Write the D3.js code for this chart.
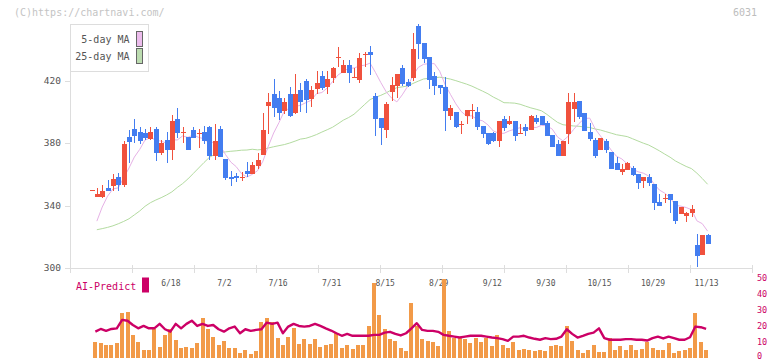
<!DOCTYPE html>
<html>
<head>
<meta charset="utf-8">
<script src="https://cdn.jsdelivr.net/npm/d3@7/dist/d3.min.js"></script>
<style>
  html, body { margin: 0; padding: 0; background: #ffffff; }
  svg { display: block; }
  text { font-family: "DejaVu Sans Mono", "Liberation Mono", monospace; }
</style>
</head>
<body>
<div id="chart"></div>
<script>
// ---- data (day index 0..115, last day = 11/13) ----
const opens = [350,345.6,345.6,351.4,352.5,358.0,353.1,384.0,389.0,386.8,386.2,382.6,389.0,373.8,381.9,375.5,395.4,386.8,384.0,388.3,386.2,387.2,390.4,371.9,389.0,369.8,358.4,359.1,358.4,362.3,360.2,365.5,372.3,403.9,411.4,408.6,400.6,411.4,399.0,413.9,419.9,408.2,414.6,422.9,415.6,421.8,434.8,425.0,429.9,422.2,420.3,437.2,438.2,410.1,396.0,388.3,412.8,416.7,428.0,419.0,421.6,454.9,444.0,435.0,422.9,417.1,415.8,397.5,399.8,392.2,397.5,401.1,399.8,390.9,386.4,386.4,381.5,395.4,392.2,394.1,386.4,390.2,388.5,396.0,397.3,392.8,385.3,379.6,371.9,386.0,402.0,406.9,399.2,387.2,382.1,375.7,381.5,374.4,367.4,361.6,362.9,364.2,360.4,355.9,358.4,354.0,342.4,345.0,347.6,343.1,334.8,333.5,335.4,314.9,308.5,321.3];
const highs = [350,351.4,353.1,356.3,360.2,360.6,381.5,388.3,395.4,390.0,389.0,390.0,390.0,381.9,386.8,397.9,402.6,390.0,384.0,390.0,388.8,391.1,391.1,392.2,390.9,369.8,362.1,361.0,361.7,367.6,367.6,373.4,399.4,411.8,421.0,413.5,408.6,416.0,424.2,418.6,421.0,416.7,425.9,425.9,425.9,428.8,441.6,433.0,433.0,427.8,437.4,438.2,442.1,412.2,396.0,406.4,422.2,424.2,429.9,421.0,450.4,456.0,444.0,435.0,425.4,417.1,422.4,404.3,399.8,394.1,401.1,405.2,403.0,390.9,386.4,387.0,394.1,397.3,397.3,394.1,392.2,392.2,397.9,397.9,397.3,394.1,385.3,382.1,381.5,412.0,412.0,406.9,399.2,393.0,383.4,383.4,382.8,374.4,371.2,366.8,368.0,365.5,360.4,358.4,360.4,354.0,347.6,347.6,347.6,343.1,339.2,336.0,340.5,322.0,321.3,322.0];
const lows = [350,345.6,344.6,349.5,349.5,349.5,352.0,367.4,379.8,379.4,381.9,381.9,368.7,372.3,367.4,369.1,383.0,379.8,375.5,383.4,376.6,379.4,369.1,369.1,370.8,356.3,352.7,354.8,355.9,358.0,360.2,363.4,372.3,385.8,396.8,394.7,398.6,396.4,398.6,400.0,399.4,402.8,411.4,413.9,411.4,418.2,428.8,425.0,418.6,421.6,418.6,428.8,423.5,384.5,378.7,383.4,407.1,408.6,416.7,416.0,419.9,434.0,431.4,414.6,411.0,411.6,387.9,394.9,389.8,386.0,392.4,395.6,388.5,383.4,378.9,380.8,377.6,387.9,391.5,381.5,386.0,384.7,388.5,392.2,391.5,384.7,377.6,371.9,371.9,379.6,393.6,395.4,387.9,381.5,370.6,375.7,373.8,363.6,362.9,359.7,362.9,359.1,350.8,351.4,352.7,337.3,339.9,341.8,335.4,328.4,334.8,329.6,332.8,300.8,308.5,315.6];
const closes = [350,347.4,349.3,349.5,357.0,353.1,379.4,380.8,384.7,381.5,383.0,387.2,373.8,379.8,375.5,394.1,386.2,386.8,375.5,383.4,386.2,381.5,371.9,381.3,370.8,357.8,357.0,357.8,358.4,360.2,365.9,369.1,388.3,406.2,402.6,399.4,406.2,397.3,411.4,406.4,407.5,413.9,418.6,415.0,421.0,428.2,434.8,429.9,425.0,422.2,434.6,437.2,436.5,395.4,389.8,405.2,417.1,424.2,417.8,416.7,440.2,443.2,434.0,420.1,416.7,415.4,400.7,402.4,390.2,392.2,401.1,401.1,390.4,386.0,379.6,381.5,394.1,389.8,394.1,384.7,386.4,387.9,397.3,393.4,391.5,384.7,377.6,371.9,381.5,406.2,406.2,396.6,387.9,382.8,371.9,383.4,375.7,363.6,362.9,363.6,367.4,359.7,354.6,358.4,354.6,341.8,339.9,345.0,343.7,330.3,339.2,335.4,338.0,307.9,321.3,315.6];
const ma5 = [null,330,339,346,350.6,351.3,357.7,364.0,371.0,375.9,381.9,383.4,382.0,381.1,379.9,382.1,381.9,384.5,383.6,385.2,383.6,382.7,379.7,380.9,378.3,372.7,367.8,364.9,360.4,358.2,359.9,362.3,368.4,377.9,386.4,393.1,400.5,402.3,403.4,404.1,405.8,407.3,411.6,412.3,415.2,419.3,423.5,425.8,427.8,428.0,429.3,429.8,431.1,425.2,418.7,412.8,408.8,406.3,410.8,416.2,423.2,428.4,430.4,430.8,430.8,425.9,417.4,411.1,405.1,400.2,397.3,397.4,395.0,394.2,391.6,387.7,386.3,386.2,387.8,388.8,389.8,388.6,390.1,389.9,391.3,391.0,388.9,383.8,381.4,384.4,388.7,392.5,395.7,395.9,389.1,384.5,380.3,375.5,371.5,369.8,366.6,363.4,361.6,360.7,358.9,353.8,349.9,347.9,345.0,340.1,339.6,338.7,337.3,330.2,328.4,323.6];
const ma25 = [null,324.5,325.2,326.0,327.0,328.3,329.8,331.5,334.0,336.5,339.5,341.8,343.5,345.0,346.7,348.7,351.5,354.0,357.0,360.5,364.0,367.5,370.8,372.8,374.0,374.3,374.7,375.0,375.4,375.5,376.0,375.6,375.9,376.8,377.6,378.3,379.0,380.0,381.2,382.5,383.0,384.1,385.4,387.0,388.5,390.1,392.3,394.6,396.3,398.4,401.5,404.7,407.8,409.3,410.5,412.1,414.0,415.4,415.9,416.5,418.1,419.6,421.0,421.4,421.8,422.1,421.6,420.9,419.9,418.8,417.7,416.4,414.8,413.2,411.5,409.4,407.7,405.8,405.7,405.5,404.8,403.6,402.5,401.6,400.6,398.3,395.7,393.2,391.7,391.3,390.9,390.7,390.2,389.9,389.0,388.3,387.3,386.3,385.3,384.7,384.1,382.7,381.3,379.9,378.7,376.9,375.0,372.9,370.9,368.5,366.7,365.0,363.6,360.7,357.3,353.6];
const aiBars = [null,10.2,9.4,8.1,8.1,9.4,28.1,28.7,14.4,10.2,5.0,5.0,18.3,6.9,14.4,18.3,11.2,6.3,6.9,6.3,9.4,25.0,18.1,13.1,8.1,10.6,6.3,6.3,3.1,5.0,2.5,4.4,22.7,25.0,22.5,12.1,8.1,13.1,18.8,8.7,11.5,8.7,11.5,6.9,8.1,8.7,15.6,6.3,8.1,5.6,8.1,8.1,20.0,46.9,26.9,18.1,11.5,10.6,6.3,4.4,34.5,20.2,11.5,10.8,10.2,7.1,49.4,16.5,12.1,12.1,11.5,9.0,12.7,9.6,12.7,7.1,14.6,7.7,6.4,9.6,5.1,5.6,4.6,4.0,4.6,4.0,7.1,8.3,7.1,20.2,10.8,4.6,2.7,5.1,8.3,3.3,3.3,12.7,5.1,7.1,4.6,7.7,5.1,5.6,9.6,6.4,4.6,4.6,9.0,2.7,4.0,5.0,5.9,28.3,9.6,5.1];
const aiLine = [null,16.4,18.1,16.9,18.1,18.5,23.8,23.3,20.6,18.5,20.0,18.5,18.5,21.3,17.9,16.4,21.3,18.5,21.3,23.3,20.0,21.3,20.0,20.6,17.9,16.4,18.5,19.6,15.4,17.9,16.9,17.5,17.9,22.1,21.3,22.1,15.4,19.6,21.3,20.0,19.6,20.0,21.3,20.0,18.5,17.1,15.4,13.8,15.0,13.8,13.8,13.8,13.8,14.4,14.4,15.8,16.3,15.0,14.0,15.4,18.5,21.7,17.5,16.9,16.9,16.3,14.4,13.8,13.3,12.7,13.3,13.8,13.8,13.8,13.3,12.7,12.3,11.7,10.6,13.3,13.3,13.8,12.7,11.9,11.3,12.3,11.7,11.9,13.3,17.9,15.0,12.7,13.8,15.0,15.8,18.5,12.3,11.3,11.3,11.3,11.7,11.7,11.3,11.3,10.8,12.3,13.3,12.1,13.3,12.3,11.3,11.3,12.9,19.6,19.2,18.1];
const xLabels = ["6/18","7/2","7/16","7/31","8/15","8/29","9/12","9/30","10/15","10/29","11/13"];
const xLabelDay = [15,25,35,45,55,65,75,85,95,105,115];
const yTicks = [300,340,380,420];
const aiTicks = [0,10,20,30,40,50];

// ---- drawing ----
const W = 772, H = 361;
const RED = "#f0513d", BLUE = "#437df0";
const svg = d3.select("#chart").append("svg").attr("width", W).attr("height", H);
svg.append("rect").attr("width", W).attr("height", H).attr("fill", "#fff");

const days = d3.range(closes.length);
const x = d3.scalePoint().domain(days).range([91.5, 707.6]);
const y = d3.scaleLinear().domain([300, 420]).range([268, 80.5]);
const yAI = d3.scaleLinear().domain([0, 50]).range([357.7, 278.3]);

// watermark and code
svg.append("text").attr("x", 14).attr("y", 16).attr("font-size", 10).attr("fill", "#c4c4c4")
  .text("(C)https://chartnavi.com/");
svg.append("text").attr("x", 757).attr("y", 16).attr("font-size", 10).attr("fill", "#bdbdbd")
  .attr("text-anchor", "end").text("6031");

// axes (main)
const axisG = svg.append("g").attr("shape-rendering", "crispEdges");
axisG.append("line").attr("x1", 70.5).attr("x2", 70.5).attr("y1", 24).attr("y2", 268.5).attr("stroke", "#dddddd");
axisG.append("line").attr("x1", 70).attr("x2", 753).attr("y1", 268.5).attr("y2", 268.5).attr("stroke", "#dddddd");
d3.range(12).forEach(i => {
  const tx = 70.5 + i * 62;
  axisG.append("line").attr("x1", tx).attr("x2", tx).attr("y1", 265).attr("y2", 273).attr("stroke", "#dddddd");
});
yTicks.forEach(v => {
  axisG.append("line").attr("x1", 65).attr("x2", 70.5).attr("y1", Math.round(y(v)) + 0.5).attr("y2", Math.round(y(v)) + 0.5).attr("stroke", "#dddddd");
  svg.append("text").attr("x", 61).attr("y", y(v)).attr("dy", "0.35em").attr("text-anchor", "end")
    .attr("font-size", 9.5).attr("fill", "#555").text(v);
});

// moving averages
const line = d3.line().defined(d => d[1] != null).x(d => x(d[0])).y(d => y(d[1]));
svg.append("path").datum(days.map(i => [i, ma25[i]])).attr("d", line)
  .attr("fill", "none").attr("stroke", "#b3dba0").attr("stroke-width", 1);
svg.append("path").datum(days.map(i => [i, ma5[i]])).attr("d", line)
  .attr("fill", "none").attr("stroke", "#e6b2e6").attr("stroke-width", 1);

// candles
const cg = svg.append("g").attr("shape-rendering", "crispEdges");
days.forEach(i => {
  const cx = x(i);
  const col = closes[i] >= opens[i] ? RED : BLUE;
  cg.append("rect").attr("x", Math.round(cx) - 0.5).attr("width", 1)
    .attr("y", y(highs[i])).attr("height", Math.max(1, y(lows[i]) - y(highs[i]))).attr("fill", col);
  const top = y(Math.max(opens[i], closes[i])), bot = y(Math.min(opens[i], closes[i]));
  cg.append("rect").attr("x", Math.round(cx) - 2.5).attr("width", 5)
    .attr("y", top).attr("height", Math.max(1, bot - top)).attr("fill", col);
});

// legend
svg.append("rect").attr("x", 70.5).attr("y", 24.5).attr("width", 78).attr("height", 47)
  .attr("fill", "#fff").attr("stroke", "#dddddd").attr("shape-rendering", "crispEdges");
[["5-day MA", "#ecbcec", 39.5], ["25-day MA", "#bcdcb0", 56]].forEach(([t, c, yy]) => {
  svg.append("text").attr("x", 129.5).attr("y", yy).attr("dy", "0.35em").attr("text-anchor", "end")
    .attr("font-size", 10).attr("fill", "#555").text(t);
  svg.append("rect").attr("x", 136.5).attr("y", yy - 8).attr("width", 6).attr("height", 15)
    .attr("fill", c).attr("stroke", "#666").attr("shape-rendering", "crispEdges");
});

// x labels
xLabels.forEach((t, k) => {
  svg.append("text").attr("x", x(xLabelDay[k]) - 1).attr("y", 285.5).attr("text-anchor", "middle")
    .attr("font-size", 8).attr("fill", "#555").text(t);
});

// AI-Predict panel
svg.append("text").attr("x", 76).attr("y", 289.5).attr("font-size", 10).attr("fill", "#cc0066").text("AI-Predict");
svg.append("rect").attr("x", 142).attr("y", 277.5).attr("width", 7).attr("height", 15).attr("fill", "#cc0066");

const bg = svg.append("g").attr("shape-rendering", "crispEdges");
days.forEach(i => {
  if (aiBars[i] == null) return;
  bg.append("rect").attr("x", x(i) - 3.5).attr("width", 4)
    .attr("y", yAI(aiBars[i])).attr("height", yAI(0) - yAI(aiBars[i])).attr("fill", "#f29a48");
});
const aiPath = d3.line().defined(d => d[1] != null).x(d => x(d[0]) - 1.5).y(d => yAI(d[1]));
svg.append("path").datum(days.map(i => [i, aiLine[i]])).attr("d", aiPath)
  .attr("fill", "none").attr("stroke", "#cc0066").attr("stroke-width", 2.4).attr("stroke-linejoin", "round");

aiTicks.forEach(v => {
  svg.append("text").attr("x", 757).attr("y", Math.min(yAI(v) + 2.7, 359.3))
    .attr("font-size", 8.5).attr("fill", "#cc0066").text(v);
});
</script>
</body>
</html>
